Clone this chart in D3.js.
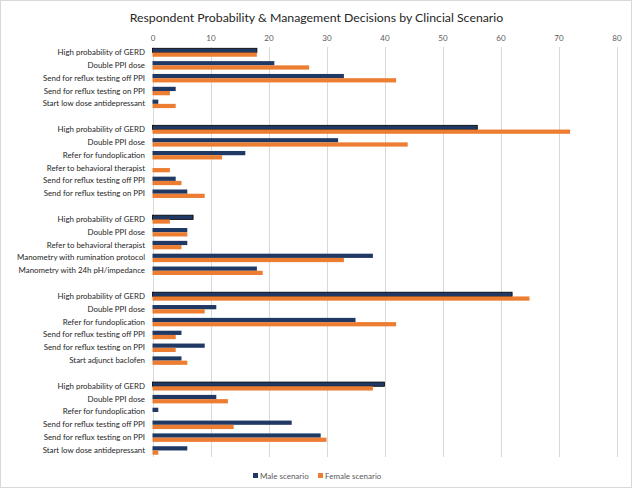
<!DOCTYPE html>
<html>
<head>
<meta charset="utf-8">
<script src="https://cdn.jsdelivr.net/npm/d3@7"></script>
<style>
  html, body { margin: 0; padding: 0; background: #fff; }
  svg { display: block; }
  text { font-family: Lato, "Liberation Sans", Arial, sans-serif; }
</style>
</head>
<body>
<svg id="chart" width="633" height="489"></svg>
<script>
// ---- data ----
const title = "Respondent Probability & Management Decisions by Clincial Scenario";
const seriesNames = ["Male scenario", "Female scenario"];
const groupSizes = [5, 6, 5, 6, 6];
const categories = [
  "High probability of GERD", "Double PPI dose", "Send for reflux testing off PPI", "Send for reflux testing on PPI", "Start low dose antidepressant",
  "High probability of GERD", "Double PPI dose", "Refer for fundoplication", "Refer to behavioral therapist", "Send for reflux testing off PPI", "Send for reflux testing on PPI",
  "High probability of GERD", "Double PPI dose", "Refer to behavioral therapist", "Manometry with rumination protocol", "Manometry with 24h pH/impedance",
  "High probability of GERD", "Double PPI dose", "Refer for fundoplication", "Send for reflux testing off PPI", "Send for reflux testing on PPI", "Start adjunct baclofen",
  "High probability of GERD", "Double PPI dose", "Refer for fundoplication", "Send for reflux testing off PPI", "Send for reflux testing on PPI", "Start low dose antidepressant"
];
const male = [
  18, 21, 33, 4, 1,
  56, 32, 16, 0, 4, 6,
  7, 6, 6, 38, 18,
  62, 11, 35, 5, 9, 5,
  40, 11, 1, 24, 29, 6
];
const female = [
  18, 27, 42, 3, 4,
  72, 44, 12, 3, 5, 9,
  3, 6, 5, 33, 19,
  65, 9, 42, 4, 4, 6,
  38, 13, 0, 14, 30, 1
];
const xTicks = [0, 10, 20, 30, 40, 50, 60, 70, 80];

// ---- build rows (with blank spacer rows between groups) ----
const rows = [];
let k = 0;
groupSizes.forEach((n, g) => {
  if (g > 0) rows.push({ id: "gap" + g, spacer: true });
  for (let i = 0; i < n; i++, k++) {
    rows.push({ id: "r" + k, label: categories[k], values: [male[k], female[k]] });
  }
});

const colors = ["#203864", "#ED7D31"];
const svg = d3.select("#chart");

// chart border
svg.append("rect")
  .attr("x", 0.5).attr("y", 0.5).attr("width", 631).attr("height", 487)
  .attr("fill", "#fff").attr("stroke", "#d9d9d9").attr("stroke-width", 1);

const x = d3.scaleLinear().domain([0, 80]).range([152.5, 616.5]);
const y = d3.scaleBand().domain(rows.map(r => r.id)).range([45.6, 456.4]).paddingInner(0).paddingOuter(0);
const inner = d3.scaleBand().domain([0, 1]).range([0, y.bandwidth() * 0.66]);
const barOffset = (y.bandwidth() - inner.range()[1]) / 2 + 0.5;

// title
svg.append("text")
  .attr("x", 316.5).attr("y", 21.5)
  .attr("text-anchor", "middle")
  .attr("font-size", 12.3)
  .attr("fill", "#262626")
  .text(title);

// gridlines
svg.append("g").selectAll("line").data(xTicks).join("line")
  .attr("x1", d => Math.round(x(d)) + 0.5).attr("x2", d => Math.round(x(d)) + 0.5)
  .attr("y1", 47).attr("y2", 457)
  .attr("stroke", "#d9d9d9").attr("stroke-width", 1);

// top axis labels
const xAxis = d3.axisTop(x).tickValues(xTicks).tickSize(0).tickPadding(0);
const ax = svg.append("g").attr("transform", "translate(0,41)").call(xAxis);
ax.select(".domain").remove();
ax.selectAll("text").attr("font-size", 8).attr("fill", "#595959")
  .attr("font-family", "Lato, 'Liberation Sans', Arial, sans-serif");

// category labels
const dataRows = rows.filter(r => !r.spacer);
svg.append("g").selectAll("text").data(dataRows).join("text")
  .attr("x", 145)
  .attr("y", d => y(d.id) + y.bandwidth() / 2 + 3)
  .attr("text-anchor", "end")
  .attr("font-size", 7.9)
  .attr("fill", "#262626")
  .text(d => d.label);

// bars
const barG = svg.append("g").selectAll("g").data(dataRows).join("g")
  .attr("transform", d => `translate(0,${y(d.id) + barOffset})`);
barG.selectAll("rect").data(d => d.values.map((v, i) => ({ v, i, label: d.label }))).join("rect")
  .attr("x", x(0))
  .attr("y", d => inner(d.i))
  .attr("width", d => x(d.v) - x(0))
  .attr("height", inner.bandwidth())
  .attr("fill", d => colors[d.i])
  .attr("stroke", d => (d.i === 0 && d.label === "High probability of GERD" && d.v > 0) ? "#000" : "none")
  .attr("stroke-width", 0.8);

// legend
const legend = svg.append("g").attr("transform", "translate(253,476)");
const items = [{ name: seriesNames[0], x: 0 }, { name: seriesNames[1], x: 65 }];
items.forEach((it, i) => {
  legend.append("rect").attr("x", it.x).attr("y", -3).attr("width", 5).attr("height", 5).attr("fill", colors[i]);
  legend.append("text").attr("x", it.x + 7).attr("y", 2.5).attr("font-size", 8).attr("fill", "#595959").text(it.name);
});
</script>
</body>
</html>
